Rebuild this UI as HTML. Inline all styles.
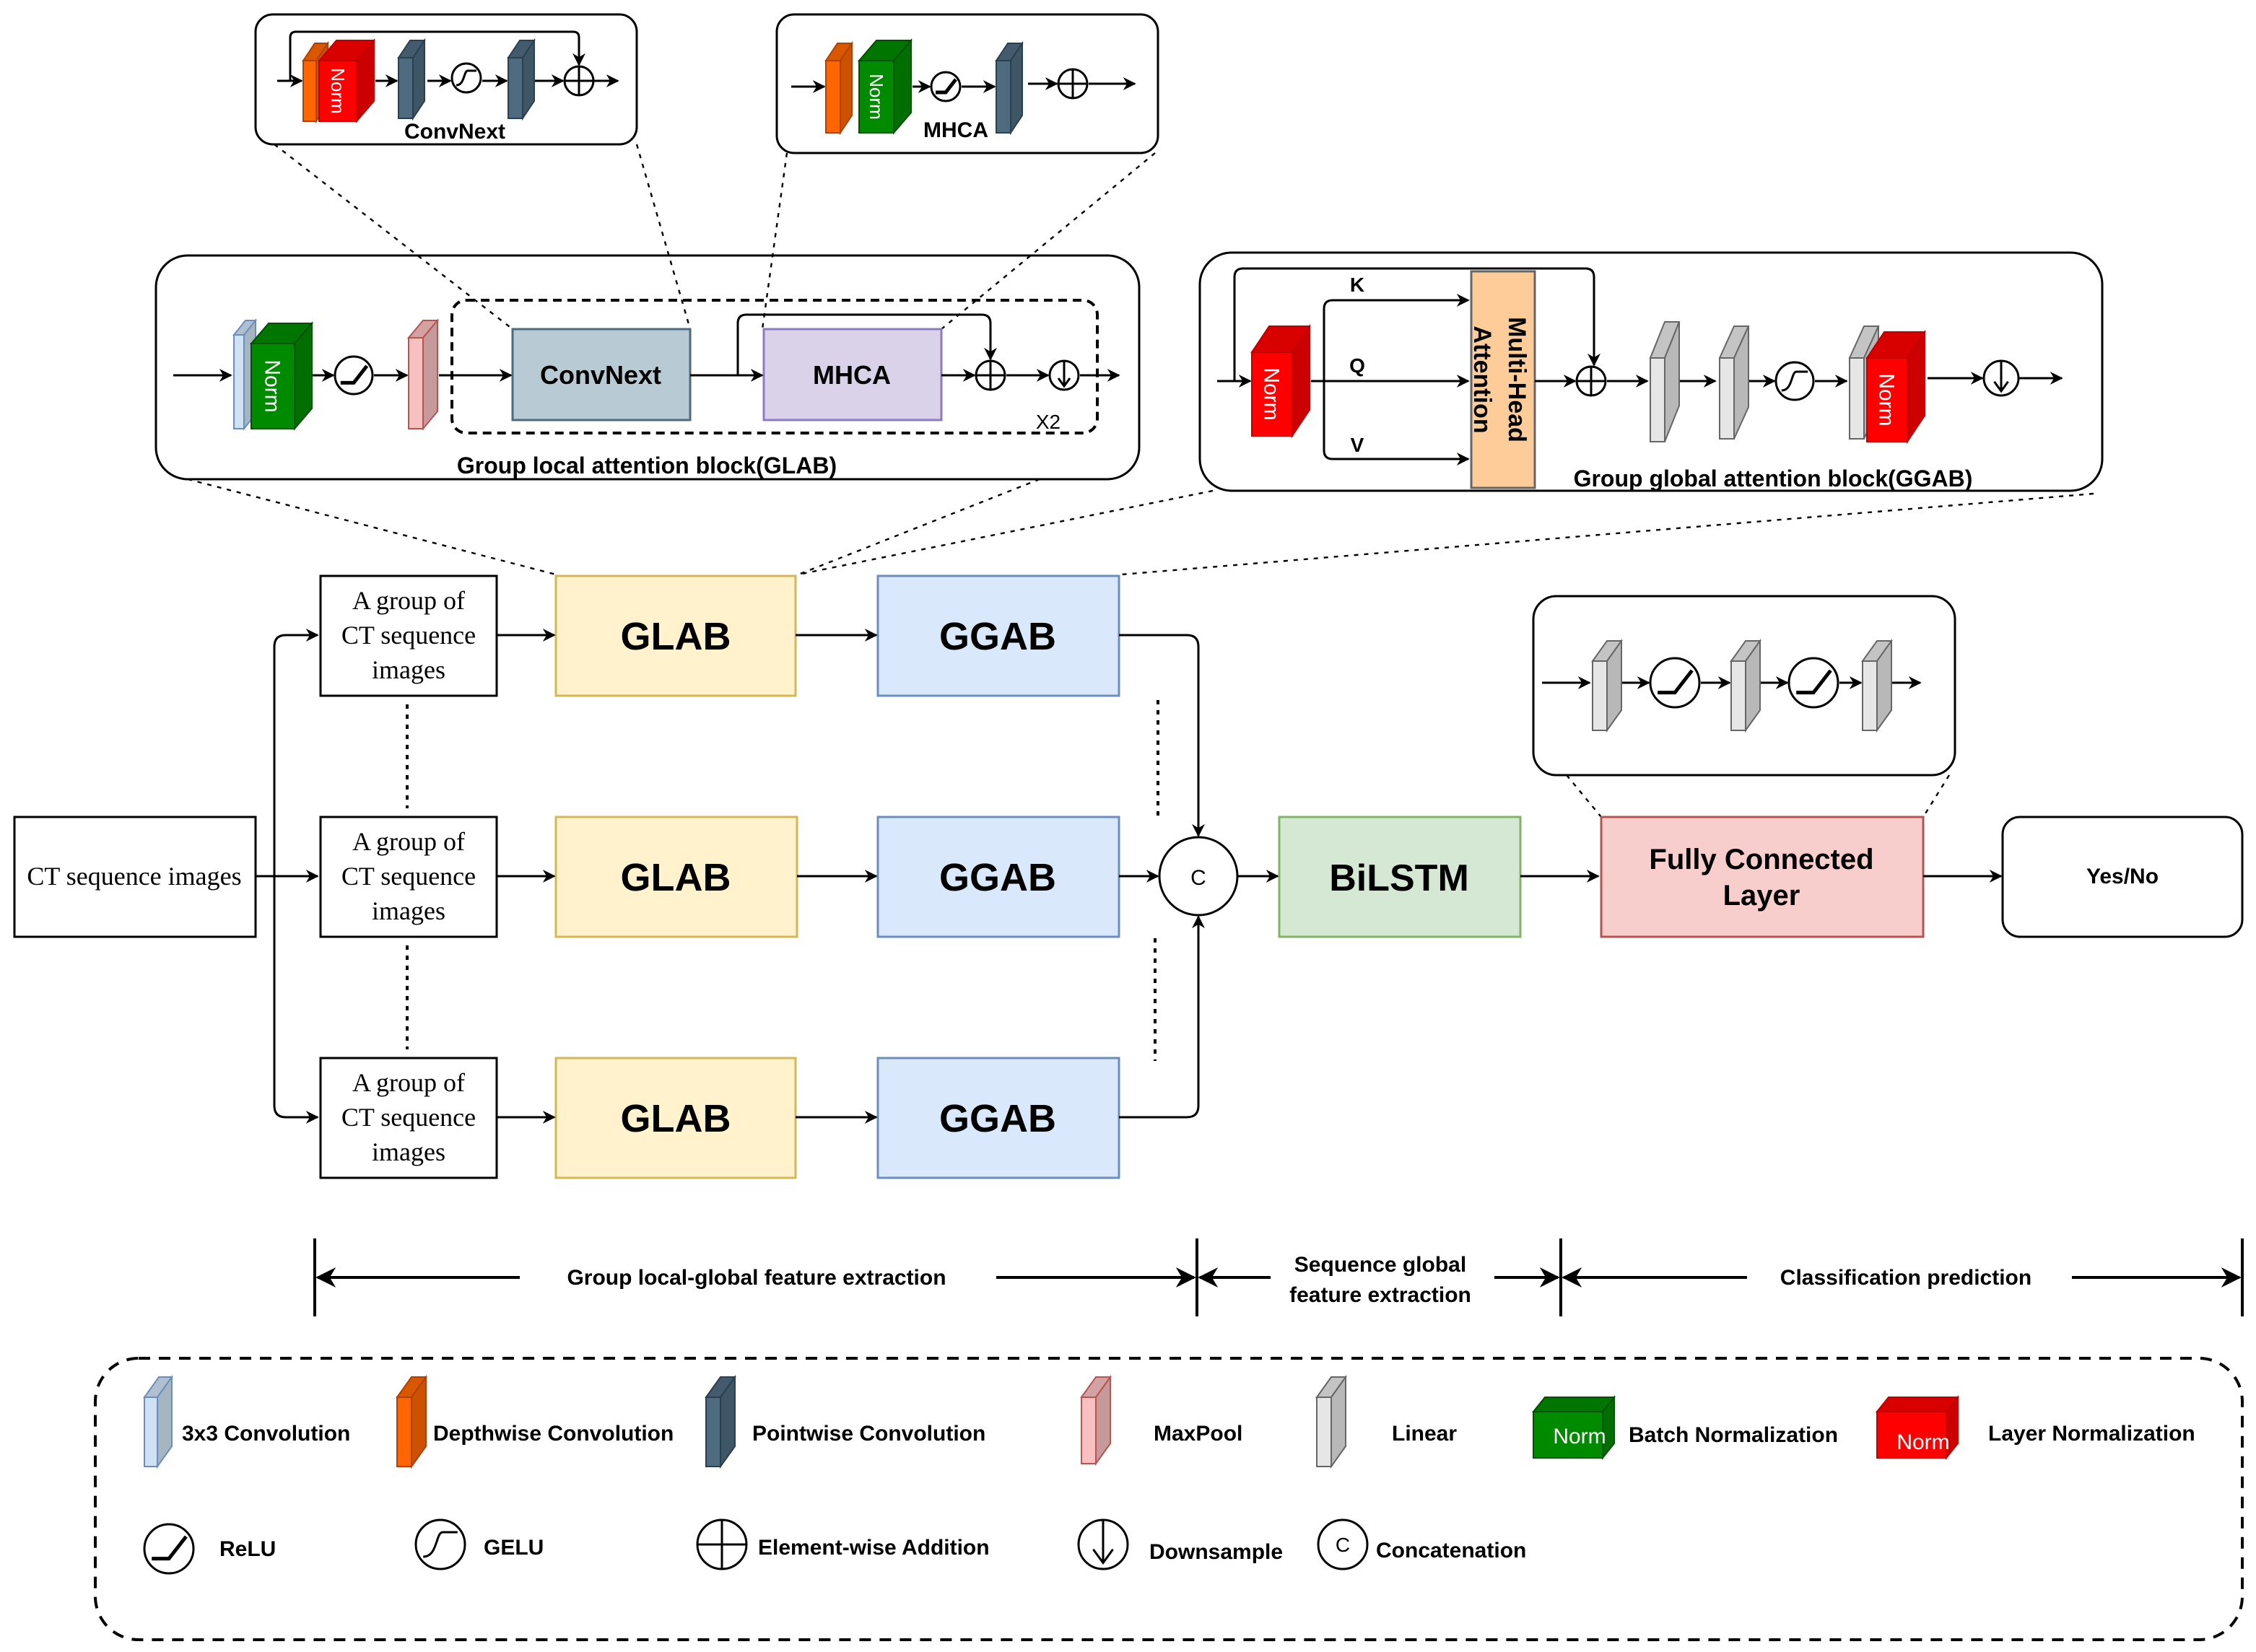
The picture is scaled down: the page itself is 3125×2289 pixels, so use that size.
<!DOCTYPE html>
<html><head><meta charset="utf-8"><style>
html,body{margin:0;padding:0;background:#fff}
svg{display:block}
text{font-family:"Liberation Sans",sans-serif}
.b{font-weight:bold}
.s text,text.s{font-family:"Liberation Serif",serif}
</style></head><body>
<svg id="S" width="3125" height="2289" viewBox="0 0 1562.5 1144.5" xmlns="http://www.w3.org/2000/svg">
<defs>
<marker id="a" viewBox="0 0 10 10" refX="9" refY="5" markerWidth="9" markerHeight="9" orient="auto" markerUnits="userSpaceOnUse"><path d="M0,0 L10,5 L0,10 L3,5 Z" fill="#000"/></marker>
<marker id="a2" viewBox="0 0 10 10" refX="9" refY="5" markerWidth="14" markerHeight="14" orient="auto" markerUnits="userSpaceOnUse"><path d="M0,0 L10,5 L0,10 L3,5 Z" fill="#000"/></marker>
<marker id="a3" viewBox="0 0 10 10" refX="1" refY="5" markerWidth="14" markerHeight="14" orient="auto" markerUnits="userSpaceOnUse"><path d="M10,0 L0,5 L10,10 L7,5 Z" fill="#000"/></marker>
</defs>
<g fill="none" stroke="#000" stroke-width="1.5">
<rect x="177" y="10" width="264" height="90" rx="12"/>
<rect x="538" y="10" width="264" height="96" rx="12"/>
<rect x="108" y="177" width="681" height="155" rx="22"/>
<rect x="831" y="175" width="625" height="165" rx="22"/>
<rect x="1062" y="413" width="292" height="124" rx="16"/>
<rect x="313" y="208" width="447" height="92" rx="10" stroke-dasharray="6,4" stroke-width="2"/>
<rect x="66" y="941" width="1487" height="195" rx="30" stroke-dasharray="8,6" stroke-width="2"/>
</g>
<g stroke="#000" stroke-width="1.2" stroke-dasharray="3,4" fill="none">
<line x1="190" y1="100" x2="355" y2="228"/><line x1="441" y1="100" x2="478" y2="228"/>
<line x1="545" y1="106" x2="528" y2="228"/><line x1="800" y1="106" x2="652" y2="228"/>
<line x1="130" y1="332" x2="385" y2="398"/><line x1="720" y1="332" x2="553" y2="398"/>
<line x1="840" y1="340" x2="553" y2="398"/><line x1="1450" y1="342" x2="777" y2="398"/>
<line x1="1085" y1="537" x2="1109" y2="566"/><line x1="1350" y1="537" x2="1332" y2="566"/>
<line x1="282" y1="488" x2="282" y2="560" stroke-width="2"/><line x1="282" y1="655" x2="282" y2="727" stroke-width="2"/>
<line x1="802" y1="485" x2="802" y2="565" stroke-width="2"/><line x1="800" y1="650" x2="800" y2="735" stroke-width="2"/>
</g>
<g stroke-width="1.5">
<rect x="10" y="566" width="167" height="83" fill="#fff" stroke="#000"/>
<rect x="222" y="399" width="122" height="83" fill="#fff" stroke="#000"/>
<rect x="222" y="566" width="122" height="83" fill="#fff" stroke="#000"/>
<rect x="222" y="733" width="122" height="83" fill="#fff" stroke="#000"/>
<rect x="385" y="399" width="166" height="83" fill="#fff2cc" stroke="#d6b656"/>
<rect x="385" y="566" width="167" height="83" fill="#fff2cc" stroke="#d6b656"/>
<rect x="385" y="733" width="166" height="83" fill="#fff2cc" stroke="#d6b656"/>
<rect x="608" y="399" width="167" height="83" fill="#dae8fc" stroke="#6c8ebf"/>
<rect x="608" y="566" width="167" height="83" fill="#dae8fc" stroke="#6c8ebf"/>
<rect x="608" y="733" width="167" height="83" fill="#dae8fc" stroke="#6c8ebf"/>
<circle cx="830" cy="607" r="27" fill="#fff" stroke="#000"/>
<rect x="886" y="566" width="167" height="83" fill="#d5e8d4" stroke="#82b366"/>
<rect x="1109" y="566" width="223" height="83" fill="#f8cecc" stroke="#b85450"/>
<rect x="1387" y="566" width="166" height="83" rx="12" fill="#fff" stroke="#000"/>
<rect x="355" y="228" width="123" height="63" fill="#b8cad3" stroke="#4a6b80"/>
<rect x="529" y="228" width="123" height="63" fill="#d9d2e9" stroke="#8e7cc3"/>
<rect x="1019" y="188" width="44" height="150" fill="#fdcc99" stroke="#666"/>
</g>
<g fill="none" stroke="#000" stroke-width="1.5" marker-end="url(#a)">
<path d="M177,607 H220"/>
<path d="M190,607 V448 Q190,440 198,440 H220"/>
<path d="M190,607 V766 Q190,774 198,774 H220"/>
<path d="M344,440 H384"/><path d="M344,607 H384"/><path d="M344,774 H384"/>
<path d="M551,440 H607"/><path d="M552,607 H607"/><path d="M551,774 H607"/>
<path d="M775,440 H822 Q830,440 830,448 V579"/>
<path d="M775,607 H802"/>
<path d="M775,774 H822 Q830,774 830,766 V635"/>
<path d="M857,607 H885"/><path d="M1053,607 H1107"/><path d="M1332,607 H1386"/>
<path d="M120,260 H160"/><path d="M216,260 H231"/><path d="M259,260 H282"/><path d="M304,260 H354"/>
<path d="M478,260 H528"/><path d="M652,260 H675"/><path d="M697,260 H726"/><path d="M748,260 H775"/>
<path d="M511,260 V224 Q511,218 517,218 H680 Q686,218 686,224 V249"/>
<path d="M843,264 H866"/>
<path d="M855,264 V192 Q855,186 861,186 H1098 Q1104,186 1104,192 V253"/>
<path d="M908,264 H1017"/>
<path d="M917,264 V214 Q917,208 923,208 H1017"/>
<path d="M917,264 V312 Q917,318 923,318 H1017"/>
<path d="M1063,264 H1091"/><path d="M1113,264 H1141"/><path d="M1163,264 H1188"/><path d="M1210,264 H1229"/>
<path d="M1257,264 H1279"/><path d="M1335,262 H1373"/><path d="M1398,262 H1428"/>
<path d="M192,56 H209"/><path d="M260,56 H275"/><path d="M296,56 H312"/><path d="M334,56 H351"/><path d="M370,56 H390"/><path d="M411,56 H428"/>
<path d="M201,56 V26 Q201,22 205,22 H397 Q401,22 401,26 V45"/>
<path d="M548,60 H571"/><path d="M632,60 H644"/><path d="M666,60 H689"/><path d="M712,58 H732"/><path d="M754,58 H786"/>
<path d="M1068,473 H1101"/><path d="M1123,473 H1142"/><path d="M1178,473 H1198"/><path d="M1219,473 H1238"/><path d="M1274,473 H1289"/><path d="M1310,473 H1330"/>
</g>
<g stroke="#000" stroke-width="2" fill="none">
<line x1="218" y1="858" x2="218" y2="912"/><line x1="829" y1="858" x2="829" y2="912"/>
<line x1="1081" y1="858" x2="1081" y2="912"/><line x1="1553" y1="858" x2="1553" y2="912"/>
<line x1="220" y1="885" x2="360" y2="885" marker-start="url(#a3)"/><line x1="690" y1="885" x2="827" y2="885" marker-end="url(#a2)"/>
<line x1="831" y1="885" x2="880" y2="885" marker-start="url(#a3)"/><line x1="1035" y1="885" x2="1079" y2="885" marker-end="url(#a2)"/>
<line x1="1083" y1="885" x2="1210" y2="885" marker-start="url(#a3)"/><line x1="1435" y1="885" x2="1551" y2="885" marker-end="url(#a2)"/>
</g>
<g id="C"></g>
<g class="b" text-anchor="middle">
<text x="468" y="450" font-size="27">GLAB</text><text x="468" y="617" font-size="27">GLAB</text><text x="468" y="784" font-size="27">GLAB</text>
<text x="691" y="450" font-size="27">GGAB</text><text x="691" y="617" font-size="27">GGAB</text><text x="691" y="784" font-size="27">GGAB</text>
<text x="969" y="617" font-size="26">BiLSTM</text>
<text x="1220" y="602" font-size="20">Fully Connected</text><text x="1220" y="627" font-size="20">Layer</text>
<text x="1470" y="612" font-size="15">Yes/No</text>
<text x="416" y="266" font-size="18">ConvNext</text><text x="590" y="266" font-size="18">MHCA</text>
<text x="315" y="96" font-size="15">ConvNext</text><text x="662" y="95" font-size="15">MHCA</text>
<text x="448" y="328" font-size="16">Group local attention block(GLAB)</text>
<text x="1228" y="337" font-size="16">Group global attention block(GGAB)</text>
<text x="524" y="890" font-size="15">Group local-global feature extraction</text>
<text x="956" y="881" font-size="15">Sequence global</text><text x="956" y="902" font-size="15">feature extraction</text>
<text x="1320" y="890" font-size="15">Classification prediction</text>
<text x="940" y="202" font-size="14">K</text><text x="940" y="258" font-size="14">Q</text><text x="940" y="313" font-size="14">V</text>
<text x="830" y="613" font-size="15" font-weight="normal">C</text>
</g>
<text x="726" y="297" font-size="14" text-anchor="middle">X2</text>
<text transform="translate(1045,263) rotate(90)" text-anchor="middle" class="b" font-size="17">Multi-Head</text>
<text transform="translate(1021,263) rotate(90)" text-anchor="middle" class="b" font-size="17">Attention</text>
<g class="s" font-size="18" text-anchor="middle">
<text x="93" y="613">CT sequence images</text>
<text x="283" y="422">A group of</text><text x="283" y="446">CT sequence</text><text x="283" y="470">images</text>
<text x="283" y="589">A group of</text><text x="283" y="613">CT sequence</text><text x="283" y="637">images</text>
<text x="283" y="756">A group of</text><text x="283" y="780">CT sequence</text><text x="283" y="804">images</text>
</g>
<g class="b" font-size="15">
<text x="126" y="998">3x3 Convolution</text><text x="300" y="998">Depthwise Convolution</text>
<text x="521" y="998">Pointwise Convolution</text><text x="799" y="998">MaxPool</text><text x="964" y="998">Linear</text>
<text x="1128" y="999">Batch Normalization</text><text x="1377" y="998">Layer Normalization</text>
<text x="152" y="1078">ReLU</text><text x="335" y="1077">GELU</text><text x="525" y="1077">Element-wise Addition</text>
<text x="796" y="1080">Downsample</text><text x="953" y="1079">Concatenation</text>
</g>
<g id="T"></g>
</svg>
<script>
var NS="http://www.w3.org/2000/svg",C=document.getElementById("C"),T=document.getElementById("T");
function el(n,a,p){var e=document.createElementNS(NS,n);for(var k in a)e.setAttribute(k,a[k]);(p||C).appendChild(e);return e;}
function shade(c,f){var r=parseInt(c.substr(1,2),16),g=parseInt(c.substr(3,2),16),b=parseInt(c.substr(5,2),16);return "rgb("+Math.round(r*f)+","+Math.round(g*f)+","+Math.round(b*f)+")";}
function cub(x,y,w,h,dx,dy,col,st,lab,fs){
 st=st||shade(col,0.7);
 el("polygon",{points:[x,y,x+dx,y-dy,x+w+dx,y-dy,x+w,y].join(","),fill:shade(col,0.85),stroke:st,"stroke-width":1});
 el("polygon",{points:[x+w,y,x+w+dx,y-dy,x+w+dx,y+h-dy,x+w,y+h].join(","),fill:shade(col,0.8),stroke:st,"stroke-width":1});
 el("rect",{x:x,y:y,width:w,height:h,fill:col,stroke:st,"stroke-width":1});
 if(lab){var t=el("text",{transform:"translate("+(x+w/2-fs*0.35)+","+(y+h/2)+") rotate(90)","text-anchor":"middle",fill:"#fff","font-size":fs},T);t.textContent=lab;}
}
function circ(cx,cy,r,type){
 el("circle",{cx:cx,cy:cy,r:r,fill:"#fff",stroke:"#000","stroke-width":1.5});
 var s=r/10,p;
 if(type=="relu")p="M"+(cx-7*s)+","+(cy+4*s)+" L"+(cx)+","+(cy+4*s)+" L"+(cx+7*s)+","+(cy-5*s);
 if(type=="gelu")p="M"+(cx-7*s)+","+(cy+5*s)+" C"+(cx-1*s)+","+(cy+5*s)+" "+(cx-2*s)+","+(cy-5*s)+" "+(cx+1*s)+","+(cy-5*s)+" L"+(cx+7*s)+","+(cy-5*s);
 if(type=="plus")p="M"+(cx-r)+","+cy+" H"+(cx+r)+" M"+cx+","+(cy-r)+" V"+(cy+r);
 if(type=="down")p="M"+cx+","+(cy-r)+" V"+(cy+r*0.7)+" M"+(cx-4*s)+","+(cy+2*s)+" L"+cx+","+(cy+r*0.75)+" L"+(cx+4*s)+","+(cy+2*s);
 if(p)el("path",{d:p,fill:"none",stroke:"#000","stroke-width":type=="relu"?2.5:1.5});
}
cub(162,232,7,65,8,10,"#cfe2f3","#6c8ebf");
cub(174,238,30,59,12,14,"#008a00","#005000","Norm",15);
circ(245,260,13,"relu");
cub(283,234,10,63,10,12,"#f8c0c0","#b85450");
circ(686,260,10,"plus");circ(737,260,10,"down");
cub(867,244,28,58,12,18,"#ff0000","#c00000","Norm",15);
circ(1102,264,10,"plus");
cub(1143,248,10,58,10,25,"#e6e6e6","#666");
cub(1191,248,10,56,10,22,"#e6e6e6","#666");
circ(1243,264,13,"gelu");
cub(1281,248,10,56,10,22,"#e6e6e6","#666");
cub(1293,248,28,58,12,18,"#ff0000","#c00000","Norm",15);
circ(1386,262,12,"down");
cub(210,42,9,42,8,12,"#ff6600","#b04000");
cub(221,42,26,42,12,14,"#ff0000","#c00000","Norm",13);
cub(276,40,10,42,8,12,"#4f6b80","#2a3f50");
circ(323,54,10,"gelu");
cub(352,40,10,42,8,12,"#4f6b80","#2a3f50");
circ(401,56,10,"plus");
cub(572,42,10,50,8,12,"#ff6600","#b04000");
cub(595,42,24,50,12,14,"#008a00","#005000","Norm",13);
circ(655,60,10,"relu");
cub(690,42,10,50,8,12,"#4f6b80","#2a3f50");
circ(743,58,10,"plus");
cub(1103,458,10,48,10,14,"#e6e6e6","#666");
circ(1160,473,17,"relu");
cub(1199,458,10,48,10,14,"#e6e6e6","#666");
circ(1256,473,17,"relu");
cub(1290,458,10,48,10,14,"#e6e6e6","#666");
cub(100,968,9,48,10,14,"#cfe2f3","#6c8ebf");
cub(275,968,10,48,10,14,"#ff6600","#b04000");
cub(489,968,10,48,10,14,"#4f6b80","#2a3f50");
cub(749,968,10,46,10,14,"#f8c0c0","#b85450");
cub(912,968,10,48,10,14,"#e6e6e6","#666");
cub(1062,978,48,32,8,10,"#008a00","#005000");
cub(1300,978,48,32,8,10,"#ff0000","#c00000");
var t1=el("text",{x:1094,y:1000,"text-anchor":"middle",fill:"#fff","font-size":15},T);t1.textContent="Norm";
var t2=el("text",{x:1332,y:1004,"text-anchor":"middle",fill:"#fff","font-size":15},T);t2.textContent="Norm";
circ(117,1073,17,"relu");circ(305,1070,17,"gelu");circ(500,1070,17,"plus");circ(764,1070,17,"down");
el("circle",{cx:930,cy:1070,r:17,fill:"#fff",stroke:"#000","stroke-width":1.5});
var t3=el("text",{x:930,y:1075,"text-anchor":"middle","font-size":14},T);t3.textContent="C";
</script>
</body></html>
